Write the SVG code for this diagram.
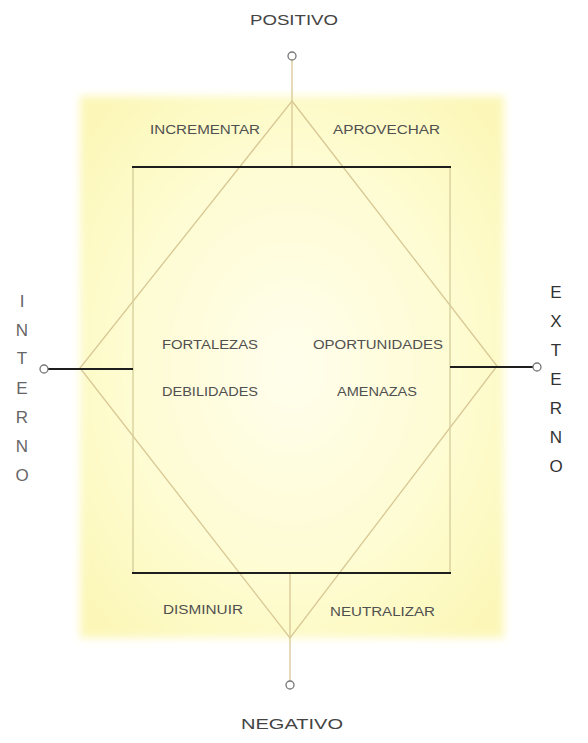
<svg xmlns="http://www.w3.org/2000/svg" width="588" height="743" viewBox="0 0 588 743">
<style>
.lbl{font-family:"Liberation Sans",Arial,sans-serif;font-size:12px;fill:#505050}
.axis{font-family:"Liberation Sans",Arial,sans-serif;font-size:14px;fill:#444}
.side{font-family:"Liberation Sans",Arial,sans-serif;font-size:17px;text-anchor:middle}
.dia{stroke:#d8c794;stroke-width:1.3;fill:none}
.thin{stroke:#d6cc9a;stroke-width:1.3;fill:none}
.bold{stroke:#1e1e1e;stroke-width:2;fill:none}
.node{fill:#fff;stroke:#777;stroke-width:1.3}
</style>
<defs>
<radialGradient id="bg" cx="0.5" cy="0.5" r="0.65">
<stop offset="0" stop-color="#fffeec"/>
<stop offset="0.6" stop-color="#fefcd2"/>
<stop offset="1" stop-color="#fcf7b8"/>
</radialGradient>
<filter id="soft" x="-5%" y="-5%" width="110%" height="110%"><feGaussianBlur stdDeviation="4"/></filter>
</defs>
<rect width="588" height="743" fill="#fff"/>
<g id="background"><rect x="80" y="96" width="424" height="542" fill="url(#bg)" filter="url(#soft)"/></g>
<g id="connectors">
<polygon class="dia" points="292,101 497,366 290,638 80,368"/>
<line class="dia" x1="292" y1="60" x2="292" y2="167"/>
<line class="dia" x1="290" y1="573" x2="290" y2="681"/>
<line class="thin" x1="133" y1="167" x2="133" y2="573"/>
<line class="thin" x1="450" y1="167" x2="450" y2="573"/>
<line class="bold" x1="132" y1="167" x2="451" y2="167"/>
<line class="bold" x1="132" y1="573" x2="451" y2="573"/>
<line class="bold" x1="48" y1="369" x2="133" y2="369" stroke-width="1.6"/>
<line class="bold" x1="450" y1="367" x2="533" y2="367" stroke-width="1.6"/>
</g>
<g id="positivo"><circle class="node" cx="292" cy="56" r="4"/><text class="axis" x="250" y="25" textLength="88" lengthAdjust="spacingAndGlyphs">POSITIVO</text></g>
<g id="negativo"><circle class="node" cx="290" cy="685" r="4"/><text class="axis" x="241" y="729" font-size="16" textLength="102" lengthAdjust="spacingAndGlyphs">NEGATIVO</text></g>
<g id="interno"><circle class="node" cx="44" cy="369" r="4"/>
<text class="side" fill="#666"><tspan x="22" y="307">I</tspan><tspan x="22" y="336">N</tspan><tspan x="22" y="364">T</tspan><tspan x="22" y="394">E</tspan><tspan x="22" y="423">R</tspan><tspan x="22" y="452">N</tspan><tspan x="22" y="481">O</tspan></text></g>
<g id="externo"><circle class="node" cx="537" cy="367" r="4"/>
<text class="side" fill="#333"><tspan x="556" y="298">E</tspan><tspan x="556" y="327">X</tspan><tspan x="556" y="356">T</tspan><tspan x="556" y="385">E</tspan><tspan x="556" y="414">R</tspan><tspan x="556" y="443">N</tspan><tspan x="556" y="472">O</tspan></text></g>
<g id="incrementar"><text class="lbl" x="150" y="134" textLength="110" lengthAdjust="spacingAndGlyphs">INCREMENTAR</text></g>
<g id="aprovechar"><text class="lbl" x="333" y="134" textLength="107" lengthAdjust="spacingAndGlyphs">APROVECHAR</text></g>
<g id="fortalezas"><text class="lbl" x="162" y="349" textLength="96" lengthAdjust="spacingAndGlyphs">FORTALEZAS</text></g>
<g id="oportunidades"><text class="lbl" x="313" y="349" textLength="130" lengthAdjust="spacingAndGlyphs">OPORTUNIDADES</text></g>
<g id="debilidades"><text class="lbl" x="162" y="396" textLength="96" lengthAdjust="spacingAndGlyphs">DEBILIDADES</text></g>
<g id="amenazas"><text class="lbl" x="337" y="396" textLength="80" lengthAdjust="spacingAndGlyphs">AMENAZAS</text></g>
<g id="disminuir"><text class="lbl" x="163" y="614" textLength="80" lengthAdjust="spacingAndGlyphs">DISMINUIR</text></g>
<g id="neutralizar"><text class="lbl" x="330" y="616" textLength="105" lengthAdjust="spacingAndGlyphs">NEUTRALIZAR</text></g>
</svg>
